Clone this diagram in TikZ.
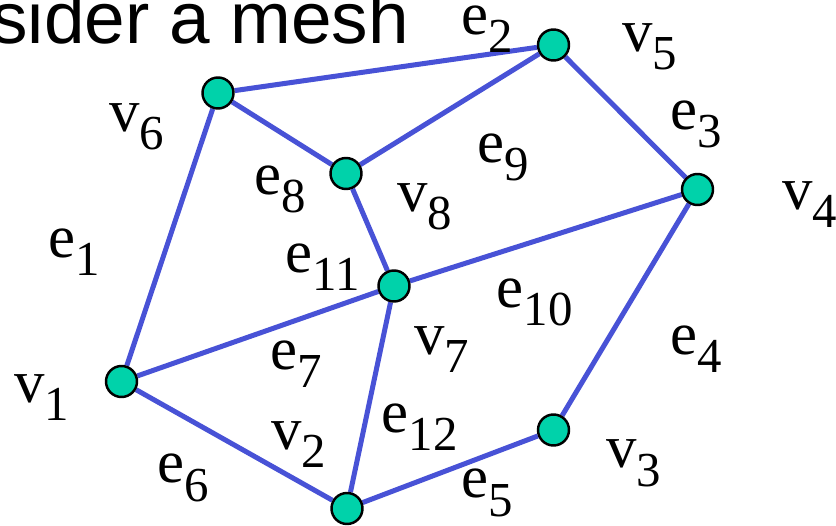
\documentclass[tikz,border=0pt]{standalone}
\usepackage{fontspec}
\setmainfont{Liberation Serif}
\newfontfamily\titlefont{Liberation Sans}
\usetikzlibrary{backgrounds}

\definecolor{meshblue}{RGB}{72,82,214}
\definecolor{meshteal}{RGB}{0,210,170}

% letter with a lowered index, e.g. \meshlab{e}{10}
\newcommand{\meshlab}[2]{#1\raisebox{-0.36cm}{\fontsize{27.8}{30}\selectfont #2}}

\begin{document}
\begin{tikzpicture}[
    vert/.style={circle, draw=black, line width=1.4pt, fill=meshteal, minimum size=0.62cm, inner sep=0pt},
    edge/.style={draw=meshblue, line width=2.85pt},
    lab/.style={font=\fontsize{34.6}{40}\selectfont, anchor=base west, inner sep=0pt},
    title/.style={font=\titlefont\fontsize{41.5}{48}\selectfont, anchor=base west, inner sep=0pt},
]
\clip (0,0) rectangle (16.72,-10.52);

% ── Title (cut by the frame) ─────────────────────────────────────────────────
\node[title] (ttl) at (-0.18,-0.866) {sider a mesh};

% ── Vertices ─────────────────────────────────────────────────────────────────
\node[vert] (v1) at (2.43,-7.63) {};
\node[vert] (v2) at (6.94,-10.17) {};
\node[vert] (v3) at (11.07,-8.60) {};
\node[vert] (v4) at (13.95,-3.79) {};
\node[vert] (v5) at (11.07,-0.90) {};
\node[vert] (v6) at (4.36,-1.86) {};
\node[vert] (v7) at (7.88,-5.72) {};
\node[vert] (v8) at (6.92,-3.47) {};

% ── Edges ────────────────────────────────────────────────────────────────────
\begin{pgfonlayer}{background}
    \foreach \a/\b in {v6/v5, v5/v4, v4/v3, v3/v2, v2/v1, v1/v6,
                       v6/v8, v8/v5, v8/v7, v7/v4, v7/v1, v7/v2}
        \draw[edge] (\a) -- (\b);
\end{pgfonlayer}

% ── Vertex labels ────────────────────────────────────────────────────────────
\node[lab] (lv1) at (0.28,-8.06) {\meshlab{v}{1}};
\node[lab] (lv2) at (5.42,-9.00) {\meshlab{v}{2}};
\node[lab] (lv3) at (12.12,-9.36) {\meshlab{v}{3}};
\node[lab] (lv4) at (15.64,-4.20) {\meshlab{v}{4}};
\node[lab] (lv5) at (12.44,-1.04) {\meshlab{v}{5}};
\node[lab] (lv6) at (2.18,-2.64) {\meshlab{v}{6}};
\node[lab] (lv7) at (8.28,-7.10) {\meshlab{v}{7}};
\node[lab] (lv8) at (7.94,-4.24) {\meshlab{v}{8}};

% ── Edge labels ──────────────────────────────────────────────────────────────
\node[lab] (le1) at (0.97,-5.16) {\meshlab{e}{1}};
\node[lab] (le2) at (9.23,-0.70) {\meshlab{e}{2}};
\node[lab] (le3) at (13.41,-2.60) {\meshlab{e}{3}};
\node[lab] (le4) at (13.41,-7.10) {\meshlab{e}{4}};
\node[lab] (le5) at (9.23,-9.96) {\meshlab{e}{5}};
\node[lab] (le6) at (3.15,-9.66) {\meshlab{e}{6}};
\node[lab] (le7) at (5.41,-7.40) {\meshlab{e}{7}};
\node[lab] (le8) at (5.09,-3.90) {\meshlab{e}{8}};
\node[lab] (le9) at (9.55,-3.26) {\meshlab{e}{9}};
\node[lab] (le10) at (9.93,-6.16) {\meshlab{e}{10}};
\node[lab] (le11) at (5.71,-5.46) {\meshlab{e}{11}};
\node[lab] (le12) at (7.63,-8.66) {\meshlab{e}{12}};

\end{tikzpicture}
\end{document}
